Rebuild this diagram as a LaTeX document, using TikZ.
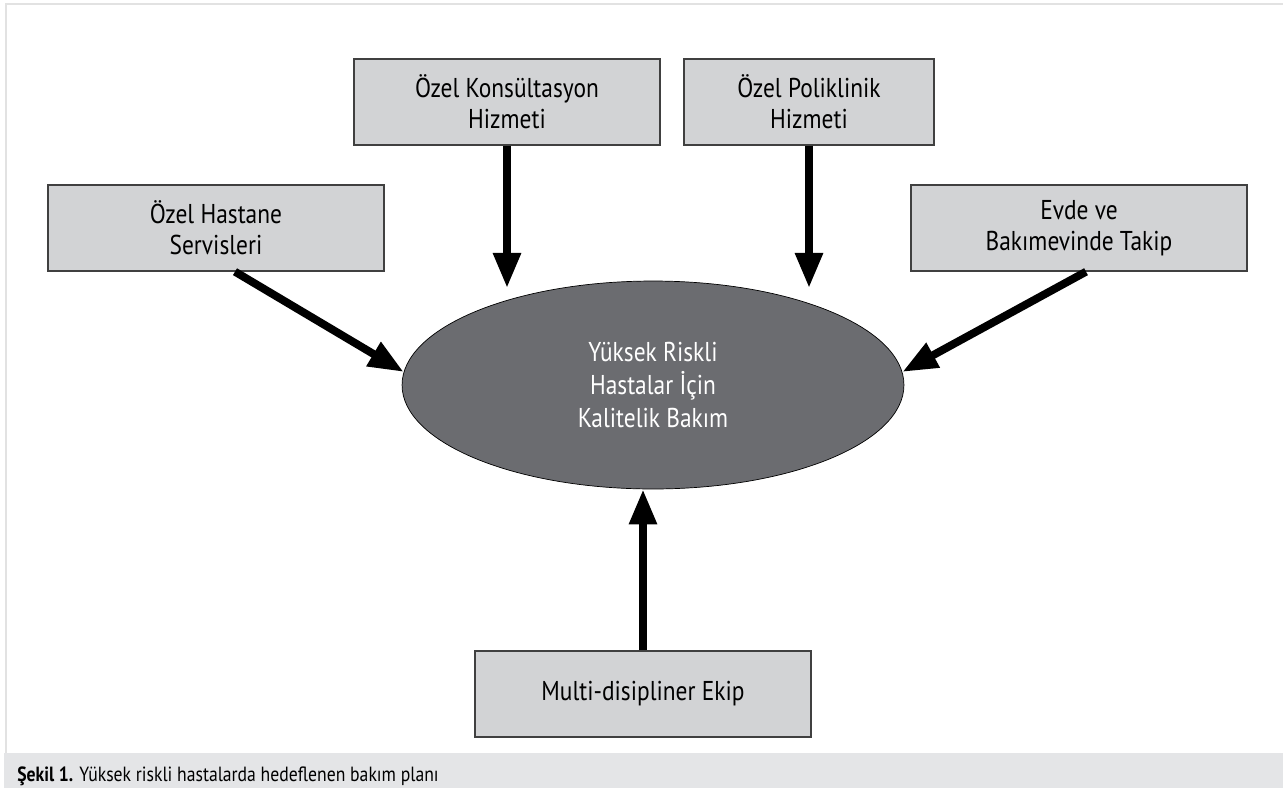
\documentclass[tikz,border=0pt]{standalone}
\usepackage{fontspec}
\setmainfont{PT Sans}[FakeStretch=0.86]
\usetikzlibrary{shapes,arrows.meta}

\definecolor{boxgray}{HTML}{D2D3D5}
\definecolor{ovalgray}{HTML}{6B6C70}
\definecolor{capgray}{HTML}{E4E5E7}
\definecolor{framegray}{HTML}{E2E2E2}

\tikzset{
  plan/.style={draw=black!75, line width=0.8pt, fill=boxgray, minimum width=#1,
    minimum height=1.72cm, align=center, font=\fontsize{15.5}{17.8}\selectfont},
  flow/.style={line width=4.5pt, -{Triangle[length=20pt,width=15pt]}}
}

\begin{document}
\begin{tikzpicture}[x=0.02cm, y=-0.02cm]
\useasboundingbox (0,0) rectangle (1283,788);
\fill [white] (0,0) rectangle (1283,788);
\draw [framegray, line width=0.9pt] (6,753) -- (6,4) -- (1283,4);
\fill [capgray] (4,753) rectangle (1283,788);

% care sources around the centre
\node[plan=6.12cm] (kons) at (507,102) {Özel Konsültasyon\\Hizmeti};
\node[plan=5.0cm] (polik) at (809,102) {Özel Poliklinik\\Hizmeti};
\node[plan=6.72cm] (hast) at (216,228) {Özel Hastane\\Servisleri};
\node[plan=6.72cm] (evde) at (1079,228) {Evde ve\\Bakımevinde Takip};
\node[plan=6.72cm] (multi) at (643,694) {Multi-disipliner Ekip};

\node[ellipse, draw=black, thin, fill=ovalgray, text=white, inner sep=0pt,
  minimum width=10.04cm, minimum height=4.16cm, align=center,
  font=\fontsize{15.5}{18.8}\selectfont] (ell) at (653,385)
  {Yüksek Riskli\\Hastalar İçin\\Kalitelik Bakım};

\coordinate (ktip) at (507,288);
\coordinate (ptip) at (809,288);
\draw [flow] (kons) -- (ktip);
\draw [flow] (polik) -- (ptip);
\draw [flow] ([xshift=0.38cm]hast.south) -- (ell.177);
\draw [flow] ([xshift=0.14cm]evde.south) -- (ell.3);
\draw [flow] (multi.north) -- (multi.north |- ell.south);

\node[anchor=base west, inner sep=0pt, font=\fontsize{11.7}{13}\selectfont] (cap) at (17,781)
  {\textbf{Şekil 1.} Yüksek riskli hastalarda hedeflenen bakım planı};
\end{tikzpicture}
\end{document}
